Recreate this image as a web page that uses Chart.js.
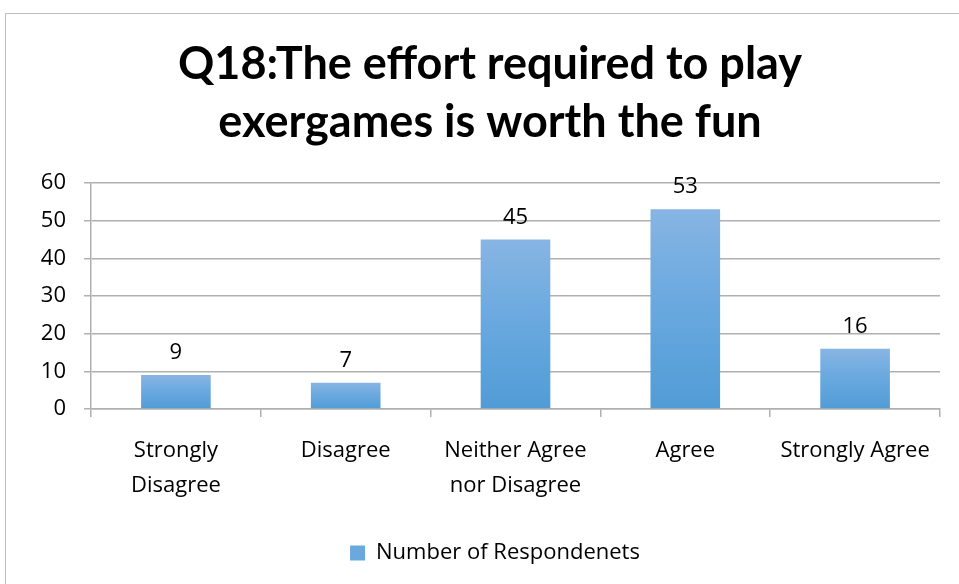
<!DOCTYPE html>
<html><head><meta charset="utf-8">
<script src="https://cdn.jsdelivr.net/npm/chart.js@4/dist/chart.umd.min.js"></script>
<style>
html,body{margin:0;padding:0;background:#fff;overflow:hidden}
#wrap{position:absolute;left:0;top:0;width:959px;height:584px}
#frame{position:absolute;left:5px;top:13px;width:970px;height:600px;border:1.5px solid #bdbdbd;box-sizing:border-box}
canvas{position:absolute;left:0;top:0}
</style></head>
<body><div id="wrap"><div id="frame"></div><canvas id="c" width="959" height="584"></canvas></div>
<script>
const titleLines = ["Q18:The effort required to play", "exergames is worth the fun"];
const categories = [["Strongly", "Disagree"], "Disagree", ["Neither Agree", "nor Disagree"], "Agree", "Strongly Agree"];
const seriesName = "Number of Respondenets";
const respondents = [9, 7, 45, 53, 16];
const yTicks = [0, 10, 20, 30, 40, 50, 60];

const TFONT = "Lato, 'Open Sans', sans-serif";
const FONT = "'Open Sans', Lato, sans-serif";

const valueLabels = {
  id: 'valueLabels',
  afterDatasetsDraw(chart) {
    const ctx = chart.ctx;
    const meta = chart.getDatasetMeta(0);
    ctx.save();
    ctx.font = "22px " + FONT;
    ctx.fillStyle = "#000";
    ctx.textAlign = "center";
    ctx.textBaseline = "alphabetic";
    meta.data.forEach((bar, i) => {
      ctx.fillText(String(respondents[i]), bar.x, bar.y - 16);
    });
    ctx.restore();
  }
};

const shiftBoxes = {
  id: 'shiftBoxes',
  afterLayout(chart) {
    if (chart.titleBlock) { chart.titleBlock.left += 10; chart.titleBlock.right += 10; }
    if (chart.legend) { chart.legend.left += 15; chart.legend.right += 15; }
  }
};

new Chart(document.getElementById('c'), {
  type: 'bar',
  data: {
    labels: categories,
    datasets: [{
      label: seriesName,
      data: respondents,
      backgroundColor(ctx) {
        const chart = ctx.chart;
        if (!chart.chartArea || ctx.type !== 'data') return '#6aa9de';
        const y = chart.scales.y;
        const top = y.getPixelForValue(ctx.parsed.y);
        const base = y.getPixelForValue(0);
        if (!isFinite(top) || top === base) return '#6aa9de';
        const g = chart.ctx.createLinearGradient(0, top, 0, base);
        g.addColorStop(0, '#87b5e3');
        g.addColorStop(0.5, '#68a8df');
        g.addColorStop(1, '#519cd6');
        return g;
      },
      borderWidth: 0,
      categoryPercentage: 1,
      barPercentage: 0.41
    }]
  },
  options: {
    responsive: false,
    animation: false,
    devicePixelRatio: 1,
    layout: { padding: { left: 20, right: 19, top: 0, bottom: 10 } },
    plugins: {
      title: {
        display: true,
        text: titleLines,
        color: '#000',
        font: { family: TFONT, size: 45, weight: 'bold', lineHeight: 1.3 },
        padding: { top: 35, bottom: 31 }
      },
      legend: {
        display: true,
        position: 'bottom',
        labels: {
          color: '#000',
          font: { family: FONT, size: 22 },
          boxWidth: 15,
          boxHeight: 15,
          padding: 10,
          generateLabels(chart) {
            return [{ text: seriesName, fillStyle: '#6aa9de', strokeStyle: '#6aa9de', lineWidth: 0, datasetIndex: 0, fontColor: '#000' }];
          }
        }
      },
      tooltip: { enabled: false }
    },
    scales: {
      x: {
        offset: true,
        grid: { display: true, drawOnChartArea: false, drawTicks: true, tickLength: 8, offset: true, color: '#b0b0b0', lineWidth: 1.5 },
        border: { display: true, color: '#b0b0b0', width: 1.5 },
        ticks: { color: '#000', font: { family: FONT, size: 22, lineHeight: 1.6 }, padding: 16, maxRotation: 0, autoSkip: false },
        afterFit(s) { s.height = 123; }
      },
      y: {
        min: 0, max: 60,
        afterBuildTicks(s) { s.ticks = yTicks.map(v => ({ value: v })); },
        grid: { color: '#b0b0b0', lineWidth: 1.5, tickLength: 7, drawTicks: true },
        border: { display: true, color: '#b0b0b0', width: 1.5 },
        ticks: { color: '#000', font: { family: FONT, size: 22 }, padding: 18 },
        afterFit(s) { s.width = 71; }
      }
    }
  },
  plugins: [valueLabels, shiftBoxes]
});
</script></body></html>
